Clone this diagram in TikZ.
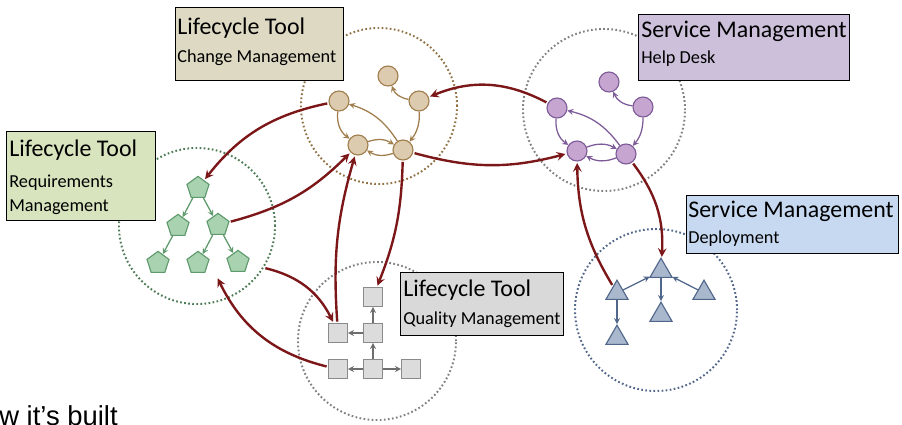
\documentclass[tikz,border=0pt]{standalone}
\usepackage{fontspec}
\setmainfont{Carlito}
\newfontfamily\capfont{Liberation Sans}
\usepackage{xcolor}
\usetikzlibrary{shapes}
\definecolor{flowred}{HTML}{7C1719}
\definecolor{chgfill}{HTML}{DCCBAE}
\definecolor{chgline}{HTML}{A07D4C}
\definecolor{hdfill}{HTML}{C6A5D1}
\definecolor{hdline}{HTML}{7D5A98}
\definecolor{rqfill}{HTML}{A9D2B1}
\definecolor{rqline}{HTML}{5F9A6C}
\definecolor{qfill}{HTML}{DCDCDC}
\definecolor{qline}{HTML}{8A8A8A}
\definecolor{dpfill}{HTML}{A9B8CC}
\definecolor{dpline}{HTML}{50668A}
\definecolor{chgbg}{HTML}{DDD9C3}
\definecolor{hdbg}{HTML}{CCC0DA}
\definecolor{rqbg}{HTML}{D7E4BD}
\definecolor{dpbg}{HTML}{C6D9F1}
\definecolor{qbg}{HTML}{D9D9D9}
\tikzset{zone/.style={circle,draw,line width=1.4pt,dash pattern=on 1.2pt off 1.7pt,inner sep=0pt}}
\tikzset{cnode/.style={circle,draw=chgline,fill=chgfill,line width=0.8pt,minimum size=0.5cm,inner sep=0pt}}
\tikzset{hnode/.style={circle,draw=hdline,fill=hdfill,line width=0.8pt,minimum size=0.5cm,inner sep=0pt}}
\tikzset{pent/.style={regular polygon,regular polygon sides=5,draw=rqline,fill=rqfill,line width=0.8pt,minimum size=0.58cm,inner sep=0pt}}
\tikzset{sq/.style={rectangle,draw=qline,fill=qfill,line width=0.8pt,minimum size=0.47cm,inner sep=0pt}}
\tikzset{tri/.style={regular polygon,regular polygon sides=3,draw=dpline,fill=dpfill,line width=0.8pt,minimum size=0.64cm,inner sep=0pt}}
\tikzset{lbl/.style={rectangle,draw=black,line width=0.8pt,anchor=north west,inner sep=0pt}}
\tikzset{ttl/.style={anchor=base west,inner sep=0pt,font=\fontsize{17}{20}\selectfont}}
\tikzset{sub/.style={anchor=base west,inner sep=0pt,font=\fontsize{13}{15}\selectfont}}
\tikzset{link/.style={->,line width=0.9pt}}
\tikzset{flow/.style={->,draw=flowred,line width=1.7pt,shorten >=1pt,shorten <=1pt}}

\begin{document}
\begin{tikzpicture}[>=stealth,x=0.025cm,y=-0.025cm]
    \clip (0,0) rectangle (902,425);

    % dotted zones
    \node[zone,draw=chgline!90!black,minimum size=3.9cm] (chgzone) at (379,106) {};
    \node[zone,draw=gray,minimum size=4.05cm] (hdzone) at (604,110) {};
    \node[zone,draw=rqline!80!black,minimum size=3.9cm] (rqzone) at (197,226) {};
    \node[zone,draw=gray,minimum size=3.95cm] (qzone) at (377,341) {};
    \node[zone,draw=dpline,minimum size=4.05cm] (dpzone) at (656,310) {};

    % change management
    \node[cnode] (chT) at (388,76) {};
    \node[cnode] (chR) at (419,101) {};
    \node[cnode] (chL) at (339,101) {};
    \node[cnode] (chBL) at (358,145) {};
    \node[cnode] (chBR) at (403,150) {};
    \draw [link,chgline] (chR) to [bend left=30] (chT);
    \draw [link,chgline] (chL) to [bend right=30] (chBL);
    \draw [link,chgline] (chBL) to [bend left=25] (chBR);
    \draw [link,chgline] (chBR) to [bend left=25] (chBL);
    \draw [link,chgline] (chBR) to [bend right=20] (chL);
    \draw [link,chgline] (chR) to [bend left=20] (chBR);

    % help desk
    \node[hnode] (hdT) at (609,82) {};
    \node[hnode] (hdR) at (643,107) {};
    \node[hnode] (hdL) at (557,108) {};
    \node[hnode] (hdBL) at (577,151) {};
    \node[hnode] (hdBR) at (626,154) {};
    \draw [link,hdline] (hdR) to [bend left=30] (hdT);
    \draw [link,hdline] (hdL) to [bend right=30] (hdBL);
    \draw [link,hdline] (hdBL) to [bend left=25] (hdBR);
    \draw [link,hdline] (hdBR) to [bend left=25] (hdBL);
    \draw [link,hdline] (hdBR) to [bend right=20] (hdL);
    \draw [link,hdline] (hdR) to [bend left=20] (hdBR);

    % requirements
    \node[pent] (rqT) at (198,188) {};
    \node[pent] (rqML) at (178,226) {};
    \node[pent] (rqMR) at (218,225) {};
    \node[pent] (rqBL) at (158,263) {};
    \node[pent] (rqBM) at (198,263) {};
    \node[pent] (rqBR) at (238,262) {};
    \draw [link,rqline] (rqT) -- (rqML);
    \draw [link,rqline] (rqT) -- (rqMR);
    \draw [link,rqline] (rqML) -- (rqBL);
    \draw [link,rqline] (rqMR) -- (rqBM);
    \draw [link,rqline] (rqMR) -- (rqBR);

    % quality
    \node[sq] (qT) at (373,297) {};
    \node[sq] (qMR) at (373,333) {};
    \node[sq] (qML) at (338,333) {};
    \node[sq] (qBL) at (338,369) {};
    \node[sq] (qBM) at (373,369) {};
    \node[sq] (qBR) at (411,369) {};
    \draw [link,qline!80!black] (qMR) -- (qT);
    \draw [link,qline!80!black] (qMR) -- (qML);
    \draw [link,qline!80!black] (qBM) -- (qMR);
    \draw [link,qline!80!black] (qBM) -- (qBL);
    \draw [link,qline!80!black] (qBM) -- (qBR);

    % deployment
    \node[tri] (dpT) at (661,271) {};
    \node[tri] (dpL) at (617,293) {};
    \node[tri] (dpR) at (704,293) {};
    \node[tri] (dpC) at (661,315) {};
    \node[tri] (dpLB) at (617,338) {};
    \draw [link,dpline] (dpL) -- (dpT);
    \draw [link,dpline] (dpR) -- (dpT);
    \draw [link,dpline] (dpT) -- (dpC);
    \draw [link,dpline] (dpL) -- (dpLB);

    % flows between tools
    \coordinate (rqin) at (217,277);
    \draw [flow] (chL) to [bend right=20] (rqT);
    \draw [flow] (rqMR) to [bend right=15] (chBL);
    \draw [flow] (qML) to [bend left=10] (chBL);
    \draw [flow] (chBR) to [bend left=10] (qT);
    \draw [flow] (rqzone.-32) to [bend left=25] (qML);
    \draw [flow] (qBL) to [bend left=25] (rqin);
    \draw [flow] (chBR) to [bend right=15] (hdBL);
    \draw [flow] (hdL) to [bend right=25] (chR);
    \draw [flow] (hdBR) to [bend left=20] (dpT);
    \draw [flow] (dpL) to [bend left=15] (hdBL);

    % labels
    \node[lbl,fill=chgbg,minimum width=4.2cm,minimum height=1.825cm] (chgbox) at (175,7) {};
    \node[ttl] (chgttl) at (177,35) {Lifecycle Tool};
    \node[sub] (chgsub) at (177,63) {Change Management};
    \node[lbl,fill=hdbg,minimum width=5.275cm,minimum height=1.65cm] (hdbox) at (638,14) {};
    \node[ttl] (hdttl) at (641,38) {Service Management};
    \node[sub] (hdsub) at (641,64) {Help Desk};
    \node[lbl,fill=rqbg,minimum width=3.725cm,minimum height=2.225cm] (rqbox) at (6,131) {};
    \node[ttl] (rqttl) at (9,157) {Lifecycle Tool};
    \node[sub] (rqsub) at (9,188) {Requirements};
    \node[sub] (rqsubb) at (9,212) {Management};
    \node[lbl,fill=dpbg,minimum width=5.3cm,minimum height=1.45cm] (dpbox) at (686,195) {};
    \node[ttl] (dpttl) at (688,218) {Service Management};
    \node[sub] (dpsub) at (688,244) {Deployment};
    \node[lbl,fill=qbg,minimum width=4.075cm,minimum height=1.575cm] (qbox) at (400,272) {};
    \node[ttl] (qttl) at (403,297) {Lifecycle Tool};
    \node[sub] (qsub) at (403,325) {Quality Management};

    \node[anchor=base east,inner sep=0pt,font=\capfont\fontsize{19.5}{22}\selectfont] (built) at (118,426) {How it’s built};
\end{tikzpicture}
\end{document}
